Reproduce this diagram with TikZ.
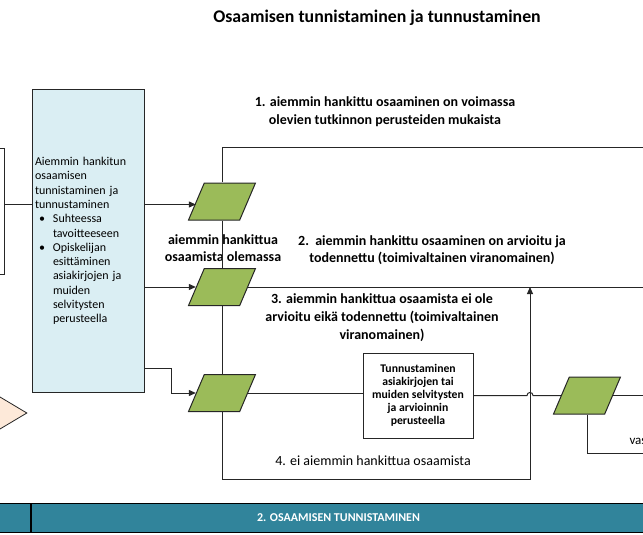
\documentclass[tikz,border=0pt]{standalone}
\usepackage{fontspec}
\setmainfont{Carlito}
\usetikzlibrary{arrows.meta,positioning,shapes.geometric}
\definecolor{boxblue}{HTML}{DAEEF3}
\definecolor{paragreen}{HTML}{9BBB59}
\definecolor{phaseteal}{HTML}{31849B}
\definecolor{startpeach}{HTML}{FDE9D9}
\definecolor{linedark}{HTML}{262626}
\tikzset{
  >=Triangle,
  title/.style={font=\bfseries\fontsize{17.8}{20}\selectfont,text=black},
  label/.style={font=\bfseries\fontsize{14}{17.7}\selectfont,align=center,text=black},
  decision/.style={
    trapezium, trapezium left angle=66, trapezium right angle=114,
    trapezium stretches=true, draw=linedark, line width=1pt, fill=paragreen,
    minimum width=67pt, minimum height=37pt, inner sep=1pt,
    text width=4pt, text height=4pt, text depth=0pt
  },
  infobox/.style={
    rectangle, draw=linedark, line width=1pt, fill=boxblue,
    minimum width=112pt, minimum height=303pt, text width=107pt,
    inner sep=2.5pt, align=left, font=\fontsize{12}{14.3}\selectfont
  },
  stepbox/.style={
    rectangle, draw=linedark, line width=1pt, fill=white,
    minimum width=110pt, minimum height=85pt, align=center,
    font=\bfseries\fontsize{11.7}{13}\selectfont
  },
  band/.style={
    rectangle, draw=black, line width=1pt, fill=phaseteal, text=white,
    minimum height=29pt, inner sep=0pt, font=\bfseries\fontsize{12}{14}\selectfont
  },
  arrow/.style={-{Triangle[length=7pt,width=6pt]}, line width=1pt, draw=linedark},
  link/.style={line width=1pt, draw=linedark}
}
\newcommand{\bul}[1]{\hspace*{4pt}\makebox[14pt][l]{\textbullet}#1}
\newcommand{\cont}[1]{\hspace*{18pt}#1}

\begin{document}
\begin{tikzpicture}[x=1pt,y=-1pt]
\useasboundingbox (0,0) rectangle (643,535);
\clip (0,0) rectangle (643,535);
\node[title] (head) at (377,18) {Osaamisen tunnistaminen ja tunnustaminen};
% left side, cut by the edge
\node[rectangle, draw=linedark, line width=1pt, fill=white, minimum width=60pt,
  minimum height=126pt, anchor=north east] (prev) at (5,148) {};
\node[diamond, draw=linedark, line width=0.8pt, fill=startpeach, minimum width=134pt,
  minimum height=80pt, inner sep=0pt] (start) at (-40,413) {};
\node[infobox, anchor=north west] (tunn) at (32,89) {Aiemmin hankitun\\osaamisen\\tunnistaminen ja\\tunnustaminen\\
  \bul{Suhteessa}\\\cont{tavoitteeseen}\\\bul{Opiskelijan}\\\cont{esittäminen}\\\cont{asiakirjojen ja}\\
  \cont{muiden}\\\cont{selvitysten}\\\cont{perusteella}};
% decisions
\node[decision] (d1) at (222,201.5) {};
\node[decision] (d2) at (222,287) {};
\node[decision] (d3) at (222,393) {};
\node[decision] (d4) at (587,395.5) {};
\node[stepbox] (tbox) at (418,395.5) {Tunnustaminen\\asiakirjojen tai\\muiden selvitysten\\ja arvioinnin\\perusteella};
% labels
\node[label] (l1) at (385,112) {1. aiemmin hankittu osaaminen on voimassa\\olevien tutkinnon perusteiden mukaista};
\node[label] (lhave) at (223,248) {aiemmin hankittua\\osaamista olemassa};
\node[label] (l2) at (432,250) {2.\ \ aiemmin hankittu osaaminen on arvioitu ja\\todennettu (toimivaltainen viranomainen)};
\node[label] (l3) at (382,317.5) {3. aiemmin hankittua osaamista ei ole\\arvioitu eikä todennettu (toimivaltainen\\viranomainen)};
\node[label, font=\fontsize{14}{17}\selectfont] (l4) at (373,461) {4. ei aiemmin hankittua osaamista};
\node[label, font=\fontsize{13}{15}\selectfont, anchor=west] (lvas) at (626,441) {vas};
% free ends
\coordinate (top) at (660,147);
\coordinate (r2) at (660,287);
\coordinate (r3) at (660,395.5);
\coordinate (r4) at (660,453);
\coordinate (loop) at (530,479);
\coordinate (merge) at (530,287);
\coordinate (hop) at (530,395.5);
% connectors
\draw[link] ([yshift=7pt]prev.east) -- ([yshift=7pt]prev.east -| tunn.west);
\draw[arrow] ([yshift=-3pt]tunn.east |- d1.west) -- ([yshift=-3pt]d1.west);
\draw[arrow] (tunn.east |- d2.west) -- (d2.west);
\draw[arrow] ([yshift=25pt]tunn.south east) -- ++(26,0) |- (d3.west);
\draw[link] (d1.north) |- (top);
\draw[link] (d1.south) -- (d2.north);
\draw[link] (d2.south) -- (d3.north);
\draw[link] (d2.east) -- (r2);
\draw[link] (d3.east) -- (d3.east -| tbox.west);
\draw[link] (tbox.east) -- ([xshift=-3pt]hop) .. controls ([xshift=-3pt,yshift=4pt]hop) and ([xshift=3pt,yshift=4pt]hop) .. ([xshift=3pt]hop) -- (d4.west);
\draw[link] (d4.east) -- (r3);
\draw[link] (d4.south) |- (r4);
\draw[arrow] (d3.south) |- (loop) -- (merge);
% phase band
\node[band, anchor=north east, minimum width=60pt] (phase0) at (31,503) {};
\node[band, anchor=north west, minimum width=614pt] (phase) at (31,503) {2. OSAAMISEN TUNNISTAMINEN};
\end{tikzpicture}
\end{document}
